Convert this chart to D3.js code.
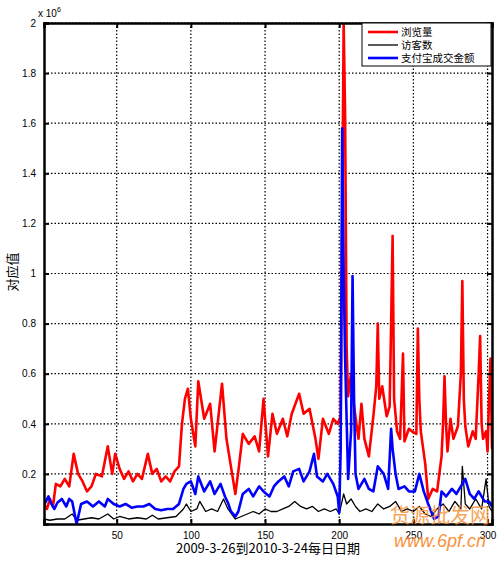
<!DOCTYPE html>
<html lang="zh">
<head>
<meta charset="UTF-8">
<title>浏览量 访客数 支付宝成交金额</title>
<script src="https://d3js.org/d3.v7.min.js"></script>
<style>
  body { margin: 0; background: #fff; }
  text { font-family: "Liberation Sans", Arial, sans-serif; }
</style>
</head>
<body>
<script>
// values in units of 10^6
var viewsDay = [1,3,5,7,9,12,15,18,21,24,27,30,33,36,40,44,47,49,52,55,58,61,64,67,71,74,77,80,83,86,89,92,94,96,98,100,103,105,109,113,116,121,124,127,130,132,135,139,143,146,149,152,155,158,162,165,168,173,176,180,184,186,189,193,196,199,201,202,203,204,205,206,208,210,213,215,217,220,223,225,226,227,229,232,234,235,236,237,239,241,242,243,244,247,249,252,253,254,255,258,260,263,266,269,270,271,272,273,275,277,280,282,283,284,285,287,290,292,294,295,296,297,299,300,301,302,303];
var views = [0.08,0.06,0.1,0.07,0.16,0.15,0.18,0.15,0.28,0.2,0.17,0.13,0.15,0.2,0.19,0.31,0.2,0.28,0.22,0.18,0.21,0.17,0.2,0.18,0.28,0.2,0.22,0.17,0.19,0.17,0.21,0.23,0.4,0.5,0.54,0.42,0.31,0.57,0.42,0.48,0.29,0.56,0.34,0.23,0.12,0.21,0.36,0.32,0.35,0.29,0.5,0.27,0.44,0.36,0.42,0.35,0.44,0.52,0.44,0.46,0.34,0.26,0.42,0.36,0.42,0.40,0.43,1.2,2.0,1.62,0.7,0.51,0.6,0.47,0.34,0.48,0.34,0.27,0.43,0.55,0.8,0.5,0.55,0.43,0.47,0.8,1.15,0.5,0.37,0.34,0.5,0.68,0.33,0.38,0.37,0.36,0.78,0.5,0.37,0.24,0.1,0.14,0.13,0.27,0.4,0.59,0.4,0.29,0.42,0.34,0.39,0.6,0.97,0.5,0.39,0.31,0.37,0.34,0.6,0.75,0.4,0.34,0.37,0.29,0.5,0.66,0.3];

var visitorsDay = [1,5,10,15,20,23,28,33,38,44,48,52,58,64,70,74,78,84,90,95,97,100,104,106,110,114,118,122,125,130,134,138,142,146,150,154,158,162,166,170,174,178,182,186,190,194,198,200,203,205,208,211,214,218,222,226,230,234,238,242,246,250,254,258,262,266,270,274,278,282,283,285,288,292,296,299,301,303];
var visitors = [0.02,0.015,0.02,0.02,0.04,0.015,0.02,0.025,0.02,0.04,0.02,0.03,0.02,0.025,0.02,0.035,0.02,0.025,0.03,0.06,0.08,0.05,0.06,0.09,0.05,0.06,0.05,0.1,0.06,0.02,0.03,0.04,0.05,0.04,0.06,0.05,0.05,0.06,0.07,0.09,0.07,0.06,0.07,0.05,0.06,0.05,0.06,0.04,0.12,0.08,0.1,0.07,0.05,0.06,0.05,0.08,0.06,0.07,0.09,0.05,0.06,0.05,0.07,0.04,0.03,0.06,0.08,0.05,0.09,0.06,0.23,0.08,0.06,0.1,0.06,0.18,0.07,0.05];

var alipayDay = [1,4,6,8,10,13,16,18,20,23,26,30,34,38,42,44,48,52,56,60,64,68,72,76,80,84,88,92,95,97,100,103,105,109,113,116,120,123,125,127,130,132,135,139,142,146,149,153,156,159,163,166,169,173,176,180,183,185,189,192,196,199,200,201,202,203,204,206,208,209,210,211,213,217,220,223,226,230,233,235,236,238,240,244,247,251,254,257,260,262,264,267,269,272,276,279,282,285,288,291,294,298,301,303];
var alipay = [0.075,0.11,0.08,0.06,0.085,0.1,0.07,0.1,0.09,0.0,0.08,0.09,0.07,0.09,0.07,0.1,0.08,0.07,0.08,0.065,0.07,0.07,0.08,0.06,0.055,0.06,0.06,0.08,0.14,0.16,0.17,0.12,0.19,0.13,0.17,0.12,0.16,0.11,0.085,0.05,0.03,0.05,0.12,0.14,0.11,0.15,0.13,0.11,0.15,0.17,0.19,0.15,0.21,0.22,0.17,0.21,0.28,0.19,0.17,0.2,0.16,0.11,0.045,0.3,1.58,1.0,0.66,0.18,0.37,0.99,0.5,0.2,0.14,0.18,0.14,0.13,0.23,0.2,0.14,0.38,0.3,0.2,0.14,0.15,0.13,0.13,0.2,0.13,0.08,0.05,0.02,0.03,0.13,0.11,0.14,0.12,0.15,0.18,0.12,0.1,0.13,0.09,0.09,0.07];

var xTicks = [50,100,150,200,250,300];
var yTicks = [0.2,0.4,0.6,0.8,1,1.2,1.4,1.6,1.8,2];
var seriesNames = ['浏览量','访客数','支付宝成交金额'];
var seriesColors = ['#ff0000','#000000','#0000ff'];

var width = 500, height = 561;
var pLeft = 44, pRight = 492, pTop = 23, pBottom = 524;

var svg = d3.select('body').append('svg')
  .attr('width', width).attr('height', height);

var x = d3.scaleLinear().domain([1, 303]).range([pLeft, pRight]);
var y = d3.scaleLinear().domain([0, 2]).range([pBottom, pTop]);

// grid
svg.selectAll('.vg').data(xTicks).enter().append('line')
  .attr('x1', d => x(d)).attr('x2', d => x(d)).attr('y1', pTop).attr('y2', pBottom)
  .attr('stroke', '#000').attr('stroke-width', 1.2).attr('stroke-dasharray', '1.5,2');
svg.selectAll('.hg').data(yTicks).enter().append('line')
  .attr('y1', d => y(d)).attr('y2', d => y(d)).attr('x1', pLeft).attr('x2', pRight)
  .attr('stroke', '#000').attr('stroke-width', 1.2).attr('stroke-dasharray', '1.5,2');

svg.append('clipPath').attr('id', 'c').append('rect')
  .attr('x', pLeft).attr('y', pTop).attr('width', pRight - pLeft).attr('height', pBottom - pTop);

function draw(days, vals, color, w) {
  var line = d3.line().x((d, i) => x(days[i])).y(d => y(d));
  svg.append('path').datum(vals).attr('d', line)
    .attr('fill', 'none').attr('stroke', color).attr('stroke-width', w)
    .attr('stroke-linejoin', 'round').attr('clip-path', 'url(#c)');
}
draw(viewsDay, views, seriesColors[0], 2.6);
draw(visitorsDay, visitors, seriesColors[1], 1.3);
draw(alipayDay, alipay, seriesColors[2], 2.6);

// axes
var xb = d3.axisBottom(x).tickValues(xTicks).tickSize(-5).tickPadding(8).tickFormat(d3.format('d'));
var xt = d3.axisTop(x).tickValues(xTicks).tickSize(-5).tickFormat('');
var yl = d3.axisLeft(y).tickValues(yTicks).tickSize(-5).tickPadding(8).tickFormat(d => d);
var yr = d3.axisRight(y).tickValues(yTicks).tickSize(-5).tickFormat('');
[[xb, 'translate(0,' + pBottom + ')'], [xt, 'translate(0,' + pTop + ')'],
 [yl, 'translate(' + pLeft + ',0)'], [yr, 'translate(' + pRight + ',0)']].forEach(function(a) {
  var g = svg.append('g').attr('transform', a[1]).call(a[0]);
  g.select('.domain').attr('stroke-width', 2.5);
  g.selectAll('.tick line').attr('stroke-width', 2);
  g.selectAll('text').attr('font-size', 10).attr('fill', '#000');
});

svg.append('text').attr('x', 38).attr('y', 17).attr('font-size', 10).text('x 10')
  .append('tspan').attr('font-size', 7).attr('dy', -5).text('6');

svg.append('text').attr('transform', 'translate(17,' + 272 + ') rotate(-90)')
  .attr('text-anchor', 'middle').attr('font-size', 13)
  .style('font-family', '"Noto Sans CJK SC"').text('对应值');
svg.append('text').attr('x', 268).attr('y', 553).attr('text-anchor', 'middle')
  .attr('font-size', 13).style('font-family', '"Noto Sans CJK SC"')
  .text('2009-3-26到2010-3-24每日日期');

// legend
var lg = svg.append('g').attr('transform', 'translate(362,23)');
lg.append('rect').attr('width', 129).attr('height', 43).attr('fill', '#fff')
  .attr('stroke', '#000').attr('stroke-width', 1);
lg.selectAll('.ll').data(seriesNames).enter().append('line')
  .attr('x1', 6).attr('x2', 36).attr('y1', (d, i) => 9 + i * 13).attr('y2', (d, i) => 9 + i * 13)
  .attr('stroke', (d, i) => seriesColors[i]).attr('stroke-width', (d, i) => i === 1 ? 1.3 : 2.6);
lg.selectAll('.lt').data(seriesNames).enter().append('text')
  .attr('x', 39).attr('y', (d, i) => 13 + i * 13).attr('font-size', 10.5)
  .style('font-family', '"Noto Sans CJK SC"').text(d => d);

// watermark
svg.append('text').attr('x', 440).attr('y', 523).attr('text-anchor', 'middle')
  .attr('font-size', 20).attr('fill', '#f7923a').attr('opacity', 0.85)
  .style('font-family', '"Noto Sans CJK SC"').text('货源批发网');
svg.append('text').attr('x', 440).attr('y', 547).attr('text-anchor', 'middle')
  .attr('font-size', 18).attr('font-style', 'italic').attr('fill', '#f7923a')
  .text('www.6pf.cn');
</script>
</body>
</html>
